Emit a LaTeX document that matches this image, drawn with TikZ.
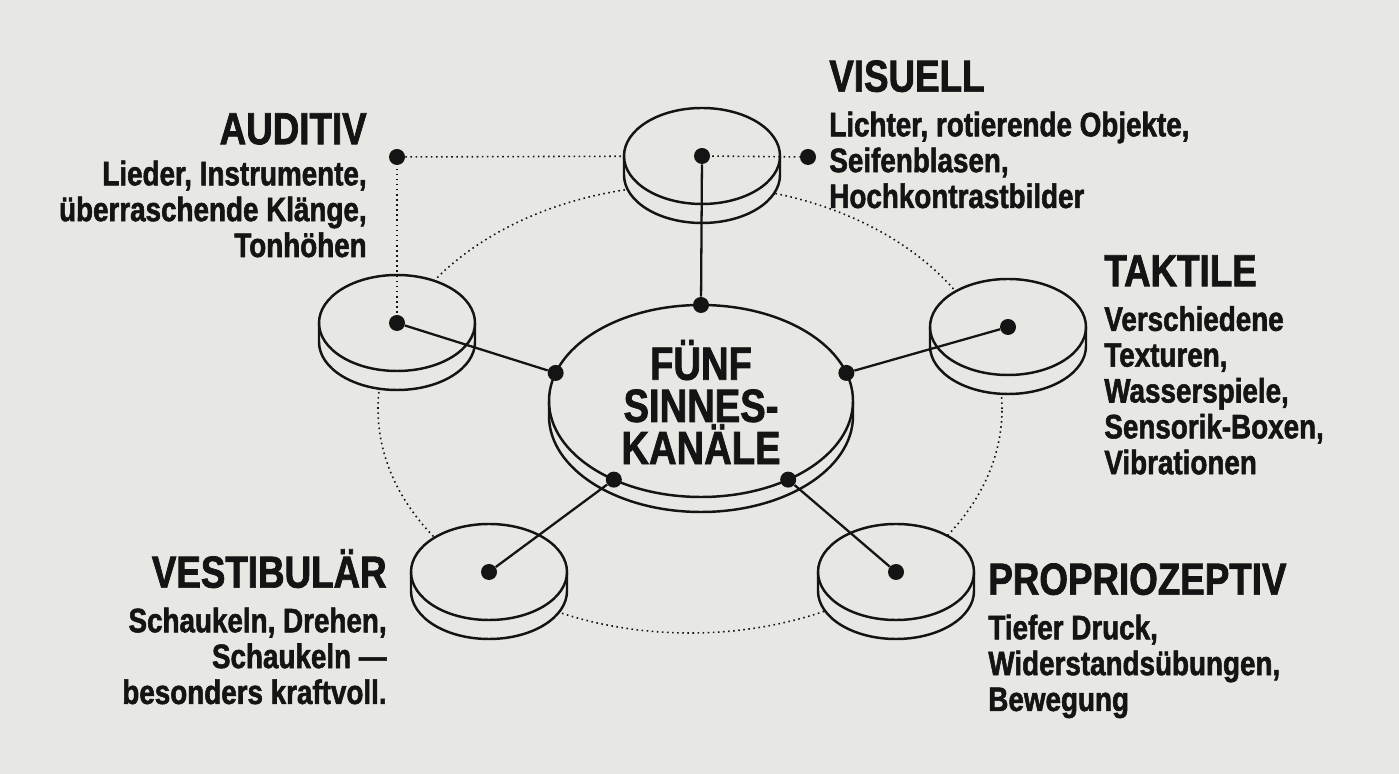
\documentclass[tikz,border=0pt]{standalone}
\usepackage{fontspec}
\setmainfont[FakeStretch=0.82,BoldFeatures={FakeBold=1.6}]{Liberation Sans}
\usetikzlibrary{calc}

\definecolor{paper}{RGB}{231,232,227}
\definecolor{ink}{RGB}{20,20,20}

\tikzset{
  dot/.style={circle,fill=ink,inner sep=0pt,minimum size=0.32cm},
  link/.style={draw=ink,line width=1.3pt},
  guide/.style={draw=ink,dotted,line width=0.9pt},
  sensetext/.style={inner sep=0pt,text=ink,font=\bfseries\fontsize{19.3}{20.4}\selectfont},
  hubtext/.style={inner sep=0pt,text=ink,align=center,font=\bfseries\fontsize{26.5}{24}\selectfont},
  pics/disc/.style args={#1 and #2 by #3}{code={
    \fill[paper] (-#1,0) -- (-#1,-#3) arc[start angle=180,end angle=360,x radius=#1,y radius=#2]
      -- (#1,0) arc[start angle=0,end angle=180,x radius=#1,y radius=#2] -- cycle;
    \draw[ink,line width=1.4pt] (-#1,0) -- (-#1,-#3) arc[start angle=180,end angle=360,x radius=#1,y radius=#2] -- (#1,0);
    \draw[ink,line width=1.4pt] (0,0) ellipse[x radius=#1,y radius=#2];
  }}
}
\newcommand{\headsize}{\fontsize{25.5}{28}\selectfont}

\begin{document}
\begin{tikzpicture}
    \fill[paper] (0,0) rectangle (27.98,15.48);
    \useasboundingbox (0,0) rectangle (27.98,15.48);

    % disc centres
    \coordinate (hubc) at (14.02,7.46);
    \coordinate (vis) at (14.04,12.36);
    \coordinate (aud) at (7.94,9.02);
    \coordinate (tak) at (20.16,8.94);
    \coordinate (ves) at (9.78,4.04);
    \coordinate (pro) at (17.92,4.04);

    % dotted orbit and guides
    \draw[guide] (13.8,7.3) ellipse[x radius=6.24,y radius=4.48];
    \node[dot] (audMark) at (7.94,12.34) {};
    \node[dot] (visMark) at (16.16,12.34) {};
    \draw[guide] (audMark) -- (vis);

    % discs
    \pic at (vis) {disc={1.56 and 0.96 by 0.38}};
    \pic at (aud) {disc={1.56 and 0.96 by 0.38}};
    \pic at (tak) {disc={1.56 and 0.96 by 0.38}};
    \pic at (ves) {disc={1.56 and 0.96 by 0.38}};
    \pic at (pro) {disc={1.56 and 0.96 by 0.38}};
    \pic at (hubc) {disc={3.04 and 1.92 by 0.30}};

    \draw[guide] (aud) -- (audMark);
    \draw[guide] (vis) -- (visMark);

    \node[hubtext] (hub) at (14.02,7.44) {FÜNF\\SINNES-\\KANÄLE};

    \begin{scope}
    \node[dot] (hubN) at ($(hubc)+(90:3.04 and 1.92)$) {};
    \node[dot] (hubW) at ($(hubc)+(163:3.04 and 1.92)$) {};
    \node[dot] (hubE) at ($(hubc)+(17:3.04 and 1.92)$) {};
    \node[dot] (hubSW) at ($(hubc)+(235:3.04 and 1.92)$) {};
    \node[dot] (hubSE) at ($(hubc)+(305:3.04 and 1.92)$) {};
    \node[dot] (visDot) at (vis) {};
    \node[dot] (audDot) at (aud) {};
    \node[dot] (takDot) at (tak) {};
    \node[dot] (vesDot) at (ves) {};
    \node[dot] (proDot) at (pro) {};
    \end{scope}

    \begin{scope}[every path/.style={link}]
    \path (visDot) -- (hubN);
    \path (audDot) -- (hubW);
    \path (takDot) -- (hubE);
    \path (vesDot) -- (hubSW);
    \path (proDot) -- (hubSE);
    \end{scope}

    % labels
    \node[sensetext,anchor=north east,align=right] (audText) at (7.34,13.22)
        {{\headsize AUDITIV}\\[3pt]Lieder, Instrumente,\\überraschende Klänge,\\Tonhöhen};
    \node[sensetext,anchor=north west,align=left] (visText) at (16.58,14.28)
        {{\headsize VISUELL}\\[5pt]Lichter, rotierende Objekte,\\Seifenblasen,\\Hochkontrastbilder};
    \node[sensetext,anchor=north west,align=left] (takText) at (22.08,10.38)
        {{\headsize TAKTILE}\\[5pt]Verschiedene\\Texturen,\\Wasserspiele,\\Sensorik-Boxen,\\Vibrationen};
    \node[sensetext,anchor=north east,align=right] (vesText) at (7.74,4.5)
        {{\headsize VESTIBULÄR}\\[5pt]Schaukeln, Drehen,\\Schaukeln —\\besonders kraftvoll.};
    \node[sensetext,anchor=north west,align=left] (proText) at (19.76,4.22)
        {{\headsize PROPRIOZEPTIV}\\[5pt]Tiefer Druck,\\Widerstandsübungen,\\Bewegung};
\end{tikzpicture}
\end{document}
